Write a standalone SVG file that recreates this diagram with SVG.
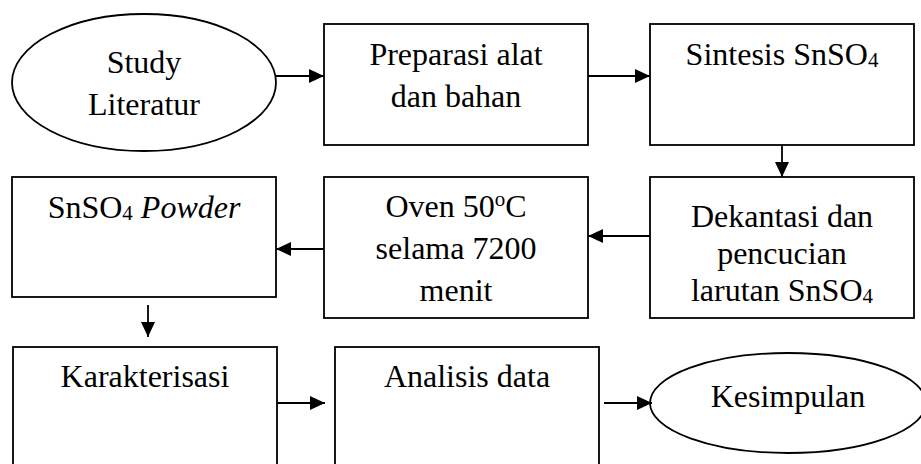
<svg xmlns="http://www.w3.org/2000/svg" width="921" height="464" viewBox="0 0 921 464">
<style>
.box{fill:#fff;stroke:#000;stroke-width:1.8}
.t{font-family:"Liberation Serif","Times New Roman",serif;font-size:32px;fill:#000;text-anchor:middle}
.sub{font-size:21px}
.con{stroke:#000;stroke-width:1.8;fill:none;marker-end:url(#ah)}
</style>
<defs>
<marker id="ah" markerUnits="userSpaceOnUse" markerWidth="16" markerHeight="14" refX="15" refY="7" orient="auto">
<path d="M0,0 L15,7 L0,14 z" fill="#000"/>
</marker>
</defs>
<rect width="921" height="464" fill="#fff"/>
<g id="study">
<ellipse class="box" cx="144" cy="82.5" rx="132" ry="68.5"/>
<text class="t" x="144" y="73">Study</text>
<text class="t" x="144" y="115">Literatur</text>
</g>
<g id="preparasi">
<rect class="box" x="324" y="24" width="264" height="121"/>
<text class="t" x="456" y="65">Preparasi alat</text>
<text class="t" x="456" y="107">dan bahan</text>
</g>
<g id="sintesis">
<rect class="box" x="650" y="24" width="264" height="121"/>
<text class="t" x="782" y="65">Sintesis SnSO<tspan class="sub" dy="2">4</tspan></text>
</g>
<g id="dekantasi">
<rect class="box" x="650" y="177" width="264" height="141"/>
<text class="t" x="782" y="227">Dekantasi dan</text>
<text class="t" x="782" y="264">pencucian</text>
<text class="t" x="782" y="301">larutan SnSO<tspan class="sub" dy="2">4</tspan></text>
</g>
<g id="oven">
<rect class="box" x="324" y="177" width="264" height="141"/>
<text class="t" x="456" y="217">Oven 50<tspan class="sub" dy="-11">o</tspan><tspan dy="11">C</tspan></text>
<text class="t" x="456" y="259">selama 7200</text>
<text class="t" x="456" y="301">menit</text>
</g>
<g id="powder">
<rect class="box" x="12" y="177" width="264" height="120"/>
<text class="t" x="144" y="218">SnSO<tspan class="sub" dy="2">4</tspan><tspan dy="-2"> </tspan><tspan font-style="italic">Powder</tspan></text>
</g>
<g id="karakterisasi">
<rect class="box" x="13" y="347" width="264" height="130"/>
<text class="t" x="145" y="387">Karakterisasi</text>
</g>
<g id="analisis">
<rect class="box" x="335" y="347" width="264" height="130"/>
<text class="t" x="467" y="387">Analisis data</text>
</g>
<g id="kesimpulan">
<ellipse class="box" cx="788" cy="403" rx="138" ry="50"/>
<text class="t" x="788" y="407">Kesimpulan</text>
</g>
<g id="connectors">
<line class="con" x1="276" y1="76" x2="324" y2="76"/>
<line class="con" x1="588" y1="76" x2="650" y2="76"/>
<line class="con" x1="782" y1="145" x2="782" y2="177"/>
<line class="con" x1="650" y1="236" x2="588" y2="236"/>
<line class="con" x1="324" y1="249" x2="276" y2="249"/>
<line class="con" x1="148" y1="305" x2="148" y2="337"/>
<line class="con" x1="277" y1="403" x2="325" y2="403"/>
<line class="con" x1="604" y1="403" x2="652" y2="403"/>
</g>
</svg>
